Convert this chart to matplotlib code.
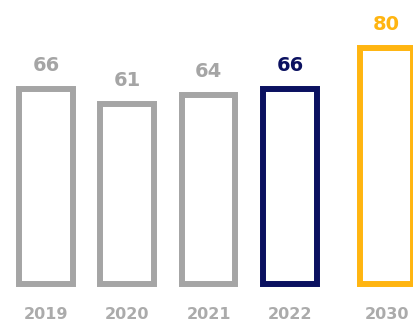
import matplotlib.pyplot as plt
import numpy as np

# dati
anni = ['2019', '2020', '2021', '2022', '2030']
valori = [66, 61, 64, 66, 80]
colori = ['#a5a5a5', '#a5a5a5', '#a5a5a5', '#0b1160', '#ffb511']

# posizioni: il 2030 è un po' staccato
pos = np.array([0, 1, 2, 3, 4.19])

fig = plt.figure(figsize=(4.14, 3.23), dpi=100)
ax = fig.add_axes([0, 23 / 323, 1, 300 / 323])

ax.bar(pos, valori, width=0.66, facecolor='none', edgecolor=colori,
       linewidth=4.3, clip_on=True)

for x, v, c in zip(pos, valori, colori):
    ax.annotate(str(v), (x, v), xytext=(0, 13), textcoords='offset points',
                ha='center', va='baseline', fontsize=14, fontweight='bold',
                color=c)

ax.set_xlim(-46 / 81.3, (414 - 46) / 81.3)
ax.set_ylim(-16 / 2.95, 284 / 2.95)
ax.set_xticks(pos)
ax.set_xticklabels(anni, fontsize=11.5, fontweight='bold', color='#ababab')
ax.tick_params(axis='x', length=0, pad=5)
ax.set_yticks([])
for s in ax.spines.values():
    s.set_visible(False)

plt.savefig('out.png', dpi=100)
